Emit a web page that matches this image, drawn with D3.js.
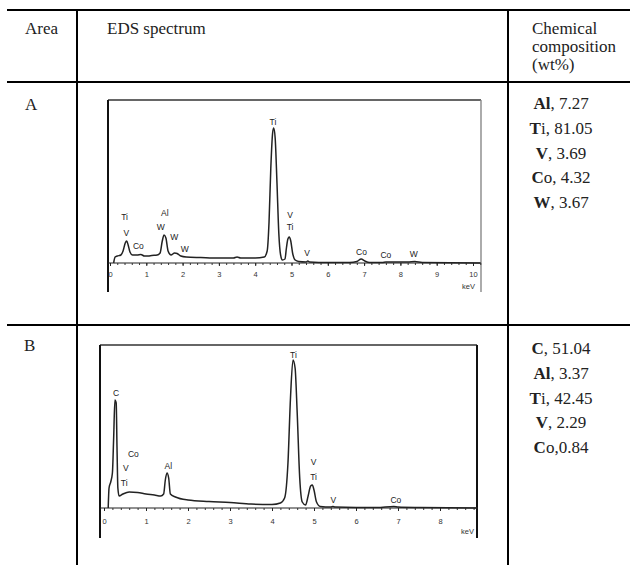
<!DOCTYPE html>
<html>
<head>
<meta charset="utf-8">
<script src="https://cdn.jsdelivr.net/npm/d3@7"></script>
<style>
  body { margin: 0; background: #fff; }
  svg { display: block; }
</style>
</head>
<body>
<svg id="chart" width="630" height="565"></svg>
<script>

// spectrum A: [keV, counts]
var spectrumA = [
  [0.10, 0], [0.14, 6], [0.2, 7], [0.3, 8], [0.36, 12], [0.42, 20], [0.46, 22], [0.5, 18],
  [0.55, 11], [0.62, 8], [0.75, 8], [0.85, 8.5], [0.95, 7], [1.05, 7], [1.15, 7.5], [1.3, 8],
  [1.38, 10], [1.44, 22], [1.49, 28], [1.54, 25], [1.6, 12], [1.68, 8], [1.78, 10], [1.85, 9.5],
  [1.95, 7], [2.1, 6], [2.5, 5.5], [3.0, 5], [3.4, 5], [3.5, 6], [3.6, 5], [4.0, 5], [4.25, 6],
  [4.33, 12], [4.38, 40], [4.43, 95], [4.48, 130], [4.51, 135], [4.55, 125], [4.6, 80],
  [4.65, 30], [4.7, 8], [4.75, 3], [4.82, 4], [4.86, 15], [4.9, 24], [4.94, 26], [4.98, 22],
  [5.03, 10], [5.1, 3], [5.2, 1.5], [5.4, 1], [5.45, 2], [5.5, 1], [6.0, 0.5], [6.6, 0.5],
  [6.8, 1.5], [6.92, 4], [7.02, 2], [7.15, 0.5], [7.5, 0.5], [7.6, 1], [7.8, 1], [8.2, 1],
  [8.4, 1.5], [8.6, 0.5], [10.2, 0]
];

// spectrum B: [keV, counts]
var spectrumB = [
  [0.1, 0], [0.12, 20], [0.16, 26], [0.2, 35], [0.23, 70], [0.26, 108], [0.29, 105], [0.31, 60],
  [0.33, 20], [0.36, 12], [0.45, 14], [0.6, 16], [0.8, 15.5], [1.0, 14], [1.2, 13], [1.35, 12],
  [1.42, 14], [1.46, 28], [1.5, 35], [1.54, 30], [1.58, 14], [1.7, 11], [2.0, 8], [2.5, 6.5],
  [3.0, 5.5], [3.5, 4], [4.0, 3.5], [4.2, 5], [4.3, 10], [4.38, 45], [4.44, 110], [4.5, 148],
  [4.55, 140], [4.6, 95], [4.66, 30], [4.72, 6], [4.8, 3], [4.86, 12], [4.92, 22], [4.96, 23],
  [5.0, 18], [5.06, 6], [5.15, 1.5], [5.4, 1], [5.45, 1.5], [5.5, 1], [6.5, 0.5], [6.9, 1.5],
  [7.0, 1], [7.5, 0.5], [8.9, 0]
];

// peak labels: [text, keV, counts]
var labelsA = [
  ["Ti", 0.40, 43], ["V", 0.45, 27], ["Co", 0.78, 14], ["Al", 1.51, 47], ["W", 1.40, 33],
  ["W", 1.77, 23], ["W", 2.06, 11], ["Ti", 4.49, 138], ["V", 4.96, 45], ["Ti", 4.96, 33],
  ["V", 5.43, 7], ["Co", 6.93, 8], ["Co", 7.6, 5], ["W", 8.37, 6]
];
var labelsB = [
  ["C", 0.29, 112], ["Co", 0.70, 51], ["V", 0.52, 37], ["Ti", 0.48, 22], ["Al", 1.53, 39],
  ["Ti", 4.51, 150], ["V", 4.99, 43], ["Ti", 4.99, 28], ["V", 5.46, 5], ["Co", 6.95, 5]
];

var ticksA = d3.range(0, 11);
var ticksB = d3.range(0, 9);

var headers = ["Area", "EDS spectrum"];
var headerChem = ["Chemical", "composition", "(wt%)"];
var areas = ["A", "B"];
var compositionA = ["Al, 7.27", "Ti, 81.05", "V, 3.69", "Co, 4.32", "W, 3.67"];
var compositionB = ["C, 51.04", "Al, 3.37", "Ti, 42.45", "V, 2.29", "Co,0.84"];

var svg = d3.select("#chart");
var serif = "'Liberation Serif', 'Times New Roman', serif";
var sans = "'Liberation Sans', Arial, sans-serif";
var fs = "17px";

// table rules
var grid = svg.append("g").attr("stroke", "#000").attr("stroke-width", 2);
[10, 82, 325].forEach(function(y) {
  grid.append("line").attr("x1", 7).attr("x2", 630).attr("y1", y).attr("y2", y);
});
[77, 508].forEach(function(x) {
  grid.append("line").attr("x1", x).attr("x2", x).attr("y1", 10).attr("y2", 565);
});

// header
svg.append("text").attr("x", 25).attr("y", 34).text(headers[0])
  .style("font-family", serif).style("font-size", fs).attr("fill", "#222");
svg.append("text").attr("x", 107).attr("y", 34).text(headers[1])
  .style("font-family", serif).style("font-size", fs).attr("fill", "#222");
headerChem.forEach(function(t, i) {
  svg.append("text").attr("x", 532).attr("y", 34 + i * 18).text(t)
    .style("font-family", serif).style("font-size", fs).attr("fill", "#222");
});

// area letters
svg.append("text").attr("x", 25).attr("y", 110).text(areas[0])
  .style("font-family", serif).style("font-size", fs).attr("fill", "#222");
svg.append("text").attr("x", 24).attr("y", 351).text(areas[1])
  .style("font-family", serif).style("font-size", fs).attr("fill", "#222");

// composition lists, element symbol first letter bold
function drawComposition(list, y0) {
  list.forEach(function(s, i) {
    var t = svg.append("text").attr("x", 561).attr("y", y0 + i * 24.8)
      .attr("text-anchor", "middle").attr("fill", "#222")
      .style("font-family", serif).style("font-size", fs);
    var sym = s.split(",")[0];
    var boldPart = sym === "Al" ? "Al" : sym.charAt(0);
    t.append("tspan").style("font-weight", "bold").text(boldPart);
    t.append("tspan").text(s.slice(boldPart.length));
  });
}
drawComposition(compositionA, 109);
drawComposition(compositionB, 354);

function drawSpectrum(opt) {
  var g = svg.append("g");
  var x = d3.scaleLinear().domain([0, opt.maxTick]).range(opt.xRange);
  var y = d3.scaleLinear().domain([0, opt.yMax]).range(opt.yRange);

  // frame
  g.append("line").attr("x1", opt.frame[0]).attr("x2", opt.frame[1])
    .attr("y1", opt.frame[2]).attr("y2", opt.frame[2])
    .attr("stroke", "#333").attr("stroke-width", 1.5);
  g.append("line").attr("x1", opt.frame[0]).attr("x2", opt.frame[0])
    .attr("y1", opt.frame[2]).attr("y2", opt.frame[3])
    .attr("stroke", "#111").attr("stroke-width", 2);
  g.append("line").attr("x1", opt.frame[1]).attr("x2", opt.frame[1])
    .attr("y1", opt.frame[2]).attr("y2", opt.frame[3])
    .attr("stroke", opt.rightColor).attr("stroke-width", opt.rightWidth);

  // axis line across frame
  g.append("line").attr("x1", opt.frame[0]).attr("x2", opt.frame[1])
    .attr("y1", y(0)).attr("y2", y(0))
    .attr("stroke", "#222").attr("stroke-width", 1.2);

  // minor ticks
  var minor = d3.range(0, x.invert(opt.frame[1]), 0.2);
  g.append("g").attr("transform", "translate(0," + y(0) + ")")
    .call(d3.axisBottom(x).tickValues(minor).tickSize(2).tickFormat(""))
    .call(function(a) { a.select(".domain").remove(); a.selectAll("line").attr("stroke", "#333"); });

  // major ticks
  g.append("g").attr("transform", "translate(0," + y(0) + ")")
    .call(d3.axisBottom(x).tickValues(opt.ticks).tickSize(3).tickPadding(opt.pad))
    .call(function(a) {
      a.select(".domain").remove();
      a.selectAll("line").attr("stroke", "#222");
      a.selectAll("text").style("font-family", sans).style("font-size", "7.5px").attr("fill", "#333");
    });

  g.append("text").attr("x", opt.kev[0]).attr("y", opt.kev[1]).text("keV")
    .style("font-family", sans).style("font-size", "7.5px").attr("fill", "#333");

  var line = d3.line()
    .x(function(d) { return x(d[0]); })
    .y(function(d) { return y(d[1]); })
    .curve(d3.curveMonotoneX);

  g.append("path").datum(opt.data).attr("d", line)
    .attr("fill", "none").attr("stroke", "#222").attr("stroke-width", 1.5);

  g.selectAll(".pk").data(opt.labels).enter().append("text")
    .attr("x", function(d) { return x(d[1]); })
    .attr("y", function(d) { return y(d[2]); })
    .attr("text-anchor", "middle")
    .text(function(d) { return d[0]; })
    .style("font-family", sans).style("font-size", "8.5px").attr("fill", "#222");
}

drawSpectrum({
  data: spectrumA, labels: labelsA, ticks: ticksA, maxTick: 10,
  xRange: [110, 473], yMax: 135, yRange: [263, 128],
  frame: [108, 481, 100, 292], rightColor: "#888", rightWidth: 1.4,
  pad: 6, kev: [462, 289]
});

drawSpectrum({
  data: spectrumB, labels: labelsB, ticks: ticksB, maxTick: 8,
  xRange: [104, 440], yMax: 148, yRange: [508, 360],
  frame: [100, 477, 345, 538], rightColor: "#111", rightWidth: 2,
  pad: 8, kev: [461, 534]
});

</script>
</body>
</html>
